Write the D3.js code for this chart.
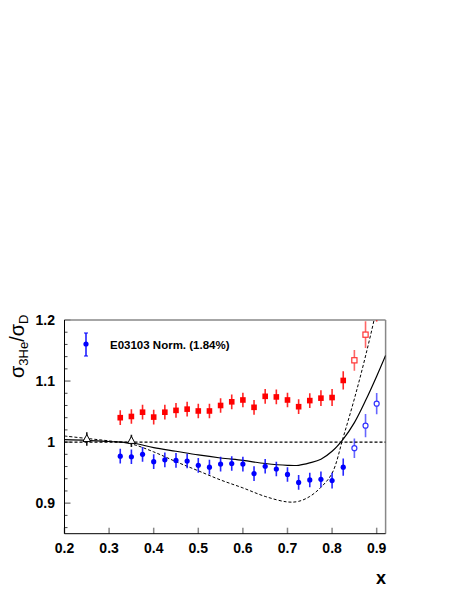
<!DOCTYPE html>
<meta charset="utf-8">
<script src="https://d3js.org/d3.v7.min.js"></script>
<style>
  body { margin: 0; background-color: white; }
  .tick-label { font: bold 14px "Liberation Sans", Arial, sans-serif; fill: black; }
</style>
<body>
<div id="my_dataviz"></div>
<script>

  // data
  var xBins = [0.325, 0.35, 0.375, 0.4, 0.425, 0.45, 0.475, 0.5, 0.525, 0.55, 0.575,
               0.6, 0.625, 0.65, 0.675, 0.7, 0.725, 0.75, 0.775, 0.8, 0.825];
  var redVals = [1.040, 1.042, 1.049, 1.041, 1.049, 1.052, 1.054, 1.051, 1.051, 1.060, 1.066,
                 1.069, 1.057, 1.075, 1.074, 1.069, 1.058, 1.068, 1.072, 1.073, 1.101];
  var redErr = [0.012, 0.012, 0.012, 0.012, 0.012, 0.012, 0.012, 0.012, 0.012, 0.012, 0.012,
                0.012, 0.012, 0.012, 0.012, 0.012, 0.012, 0.012, 0.013, 0.014, 0.015];
  var blueVals = [0.977, 0.976, 0.980, 0.968, 0.971, 0.970, 0.969, 0.962, 0.959, 0.964, 0.965,
                  0.964, 0.9485, 0.9605, 0.956, 0.947, 0.934, 0.938, 0.939, 0.937, 0.959];
  var blueErr = [0.012, 0.012, 0.012, 0.012, 0.012, 0.012, 0.012, 0.012, 0.012, 0.012, 0.012,
                 0.012, 0.012, 0.012, 0.012, 0.012, 0.012, 0.012, 0.013, 0.013, 0.014];

  var xHigh = [0.85, 0.875, 0.9];
  var redOpenVals = [1.134, 1.176, 1.24];
  var redOpenErr = [0.017, 0.022, 0.043];
  var blueOpenVals = [0.990, 1.027, 1.063];
  var blueOpenErr = [0.016, 0.019, 0.0175];

  var triX = [0.25, 0.35];
  var triVals = [1.005, 1.002];
  var triErr = [0.011, 0.010];

  var curveX = [0.2, 0.25, 0.3, 0.35, 0.4, 0.45, 0.5, 0.55, 0.6, 0.65, 0.7, 0.725,
                0.75, 0.775, 0.8, 0.825, 0.85, 0.875, 0.9, 0.92];
  var solidVals = [1.004, 1.003, 1.001, 0.999, 0.991, 0.985, 0.979, 0.974, 0.970, 0.965, 0.962, 0.962,
                   0.966, 0.972, 0.985, 1.005, 1.032, 1.068, 1.108, 1.142];
  var dashVals = [1.010, 1.006, 1.002, 0.997, 0.984, 0.968, 0.953, 0.938, 0.925, 0.911, 0.902, 0.903,
                  0.911, 0.926, 0.949, 1.008, 1.071, 1.141, 1.22, 1.30];

  var xTicks = [0.2, 0.3, 0.4, 0.5, 0.6, 0.7, 0.8, 0.9];
  var yTicks = [0.9, 1, 1.1, 1.2];

  var width = 463, height = 599;
  var x = d3.scaleLinear().domain([0.2, 0.92]).range([64.5, 385.6]);
  var y = d3.scaleLinear().domain([0.85, 1.2]).range([533.7, 320]);

  var svg = d3.select("#my_dataviz")
    .append("svg")
      .attr("width", width)
      .attr("height", height);

  svg.append("rect").attr("width", width).attr("height", height).attr("fill", "white");

  svg.append("clipPath").attr("id", "frame")
    .append("rect")
      .attr("x", x(0.2)).attr("y", y(1.2))
      .attr("width", x(0.92) - x(0.2)).attr("height", y(0.85) - y(1.2));

  // ticks (drawn inside the frame)
  var minorY = d3.range(0.86, 1.2, 0.02).filter(function(v) {
    return Math.abs(v * 10 - Math.round(v * 10)) > 0.01;
  });
  svg.append("g").selectAll("line")
    .data(minorY).enter().append("line")
      .attr("x1", x(0.2)).attr("x2", x(0.2) + 3)
      .attr("y1", function(d) { return y(d); }).attr("y2", function(d) { return y(d); })
      .attr("stroke", "#444").attr("stroke-width", 1);
  svg.append("g").selectAll("line")
    .data(yTicks).enter().append("line")
      .attr("x1", x(0.2)).attr("x2", x(0.2) + 6)
      .attr("y1", function(d) { return y(d); }).attr("y2", function(d) { return y(d); })
      .attr("stroke", "#888").attr("stroke-width", 1.5);
  svg.append("g").selectAll("line")
    .data(xTicks).enter().append("line")
      .attr("x1", function(d) { return x(d); }).attr("x2", function(d) { return x(d); })
      .attr("y1", y(0.85)).attr("y2", y(0.85) - 6)
      .attr("stroke", "#888").attr("stroke-width", 1.5);

  // frame
  svg.append("line").attr("x1", x(0.2)).attr("x2", x(0.92)).attr("y1", y(1.2)).attr("y2", y(1.2))
    .attr("stroke", "#888").attr("stroke-width", 1.5);
  svg.append("line").attr("x1", x(0.92)).attr("x2", x(0.92)).attr("y1", y(1.2)).attr("y2", y(0.85))
    .attr("stroke", "#888").attr("stroke-width", 1.5);
  svg.append("line").attr("x1", x(0.2)).attr("x2", x(0.2)).attr("y1", y(1.2)).attr("y2", y(0.85))
    .attr("stroke", "black").attr("stroke-width", 1);
  svg.append("line").attr("x1", x(0.2)).attr("x2", x(0.92)).attr("y1", y(0.85)).attr("y2", y(0.85))
    .attr("stroke", "black").attr("stroke-width", 1);

  // tick labels
  svg.append("g").selectAll("text")
    .data(yTicks).enter().append("text")
      .attr("class", "tick-label")
      .attr("x", 55)
      .attr("y", function(d) { return y(d) + 5; })
      .attr("text-anchor", "end")
      .text(function(d) { return d3.format("")(d); });
  svg.append("g").selectAll("text")
    .data(xTicks).enter().append("text")
      .attr("class", "tick-label")
      .attr("x", function(d) { return x(d); })
      .attr("y", 553)
      .attr("text-anchor", "middle")
      .text(function(d) { return d3.format(".1f")(d); });

  svg.append("text")
    .attr("x", 386).attr("y", 584)
    .attr("text-anchor", "end")
    .style("font", "bold 18px 'Liberation Sans', Arial, sans-serif")
    .text("x");

  var ylab = svg.append("text")
    .attr("transform", "translate(24,378) rotate(-90)")
    .style("font-family", "'Liberation Sans', Arial, sans-serif");
  ylab.append("tspan").style("font-size", "20px").text("σ");
  ylab.append("tspan").style("font-size", "13px").attr("dy", 4).text("3He");
  ylab.append("tspan").style("font-size", "20px").attr("dy", -4).text("/");
  ylab.append("tspan").style("font-size", "20px").text("σ");
  ylab.append("tspan").style("font-size", "13px").attr("dy", 4).text("D");

  var plot = svg.append("g").attr("clip-path", "url(#frame)");

  // y = 1 reference line
  plot.append("line")
    .attr("x1", x(0.2)).attr("x2", x(0.92)).attr("y1", y(1)).attr("y2", y(1))
    .attr("stroke", "black").attr("stroke-width", 1.3).attr("stroke-dasharray", "3,2");

  var line = d3.line()
    .x(function(d) { return x(d[0]); })
    .y(function(d) { return y(d[1]); })
    .curve(d3.curveCatmullRom);

  plot.append("path")
    .datum(d3.zip(curveX, solidVals))
    .attr("d", line)
    .attr("fill", "none").attr("stroke", "black").attr("stroke-width", 1.2);
  plot.append("path")
    .datum(d3.zip(curveX, dashVals))
    .attr("d", line)
    .attr("fill", "none").attr("stroke", "black").attr("stroke-width", 1)
    .attr("stroke-dasharray", "3,2");

  // error bars
  function errorBars(xs, vals, errs, color, opacity) {
    plot.append("g").selectAll("line")
      .data(d3.zip(xs, vals, errs)).enter().append("line")
        .attr("x1", function(d) { return x(d[0]); })
        .attr("x2", function(d) { return x(d[0]); })
        .attr("y1", function(d) { return y(d[1] - d[2]); })
        .attr("y2", function(d) { return y(d[1] + d[2]); })
        .attr("stroke", color).attr("stroke-width", 1.6)
        .attr("stroke-opacity", opacity);
  }

  errorBars(xBins, redVals, redErr, "#ff0000", 0.85);
  errorBars(xBins, blueVals, blueErr, "#0000ff", 0.85);
  errorBars(xHigh, redOpenVals, redOpenErr, "#ff0000", 0.6);
  errorBars(xHigh, blueOpenVals, blueOpenErr, "#0000ff", 0.6);
  errorBars(triX, triVals, triErr, "black", 0.9);

  // markers
  plot.append("g").selectAll("rect")
    .data(d3.zip(xBins, redVals)).enter().append("rect")
      .attr("x", function(d) { return x(d[0]) - 2.8; })
      .attr("y", function(d) { return y(d[1]) - 2.8; })
      .attr("width", 5.6).attr("height", 5.6)
      .attr("fill", "#ff0000");
  plot.append("g").selectAll("circle")
    .data(d3.zip(xBins, blueVals)).enter().append("circle")
      .attr("cx", function(d) { return x(d[0]); })
      .attr("cy", function(d) { return y(d[1]); })
      .attr("r", 2.6)
      .attr("fill", "#0000ff");
  plot.append("g").selectAll("rect")
    .data(d3.zip(xHigh, redOpenVals)).enter().append("rect")
      .attr("x", function(d) { return x(d[0]) - 2.6; })
      .attr("y", function(d) { return y(d[1]) - 2.6; })
      .attr("width", 5.2).attr("height", 5.2)
      .attr("fill", "white").attr("stroke", "#ff3333").attr("stroke-width", 1.2);
  plot.append("g").selectAll("circle")
    .data(d3.zip(xHigh, blueOpenVals)).enter().append("circle")
      .attr("cx", function(d) { return x(d[0]); })
      .attr("cy", function(d) { return y(d[1]); })
      .attr("r", 2.5)
      .attr("fill", "white").attr("stroke", "#3333ff").attr("stroke-width", 1.2);
  plot.append("g").selectAll("path")
    .data(d3.zip(triX, triVals)).enter().append("path")
      .attr("transform", function(d) { return "translate(" + x(d[0]) + "," + y(d[1]) + ")"; })
      .attr("d", "M0,-4.5L3.8,2.5L-3.8,2.5Z")
      .attr("fill", "white").attr("stroke", "black").attr("stroke-width", 1);

  // legend
  var leg = svg.append("g");
  leg.append("line").attr("x1", 86).attr("x2", 86).attr("y1", 333).attr("y2", 356)
    .attr("stroke", "#0000ff").attr("stroke-width", 1.4);
  leg.append("line").attr("x1", 84).attr("x2", 88).attr("y1", 333).attr("y2", 333)
    .attr("stroke", "#0000ff").attr("stroke-width", 1);
  leg.append("line").attr("x1", 84).attr("x2", 88).attr("y1", 356).attr("y2", 356)
    .attr("stroke", "#0000ff").attr("stroke-width", 1);
  leg.append("circle").attr("cx", 86).attr("cy", 344).attr("r", 2.6).attr("fill", "#0000ff");
  leg.append("text")
    .attr("x", 110).attr("y", 349)
    .style("font", "bold 11.5px 'Liberation Sans', Arial, sans-serif")
    .text("E03103 Norm. (1.84%)");

</script>
</body>
</html>
